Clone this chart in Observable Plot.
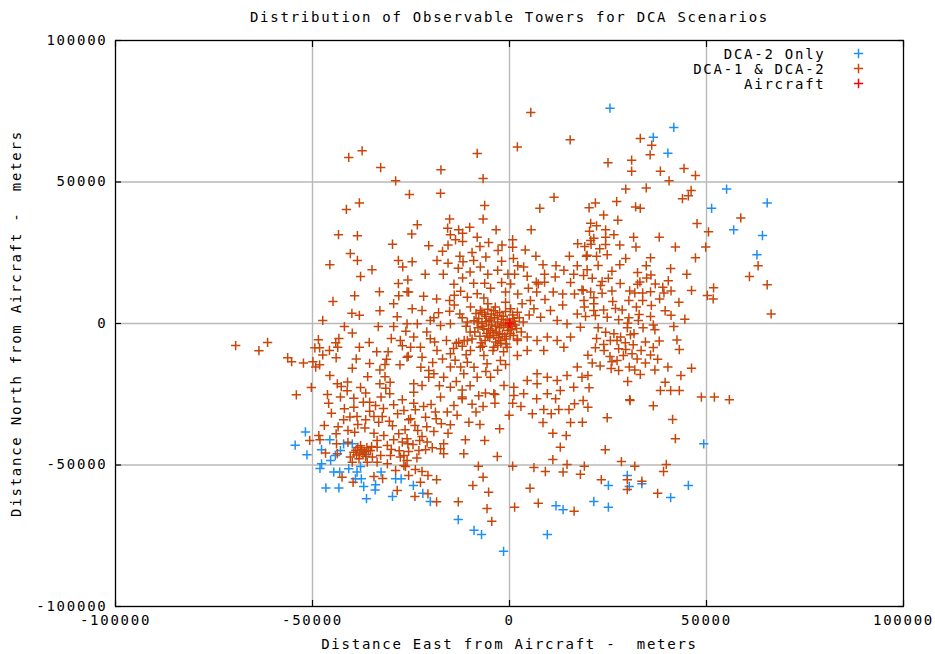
<!DOCTYPE html>
<html><head><meta charset="utf-8">
<script src="https://cdn.jsdelivr.net/npm/d3@7"></script>
<script src="https://cdn.jsdelivr.net/npm/@observablehq/plot@0.6"></script>
<style>
body{margin:0;background:#fff}
svg text{letter-spacing:1.75px;white-space:pre}
</style>
</head><body><div id="chart"></div>
<script>
const title = "Distribution of Observable Towers for DCA Scenarios";
const xLabel = "Distance East from Aircraft -  meters";
const yLabel = "Distance North from Aircraft -  meters";
const legendLabels = ["DCA-2 Only", "DCA-1 & DCA-2", "Aircraft"];
const seriesColors = ["#1e8ff5", "#c8460a", "#ff0000"];
const xTicks = [-100000, -50000, 0, 50000, 100000];
const yTicks = [-100000, -50000, 0, 50000, 100000];

// DCA-2 Only towers [east, north] in meters
const dca2Only = [
[25500,76100],[41700,69300],[36500,65800],[40200,60200],[55100,47500],[51300,40700],[65400,42600],[56900,33100],[64200,31100],[62800,24300],
[-51800,-38300],[-54400,-43000],[-51400,-46400],[-45600,-41100],[-47700,-44600],[-47700,-49600],[-48100,-51200],[-45400,-48400],[-44200,-46600],[-42900,-44900],
[-42100,-42500],[-39900,-42500],[-44600,-52500],[-43100,-52500],[-40800,-51300],[-38700,-52500],[-37800,-50500],[-39100,-54900],[-37600,-54900],[-46600,-58100],
[-43300,-58100],[-37000,-57600],[-34000,-57000],[-34100,-58800],[-36300,-61900],[-32600,-52500],[-28900,-54900],[-27500,-54900],[-29700,-61100],[-36400,-46300],
[-24400,-57200],[-22000,-60000],[-20100,-62900],[-13000,-69300],[-9000,-73100],[-7100,-74600],[-1500,-80500],[11800,-64400],[13600,-65800],[9600,-74600],
[49300,-42500],[29900,-53700],[25100,-57200],[30400,-57600],[33600,-56600],[45400,-57200],[21400,-62900],[25100,-64900],[40900,-61500]
];

// DCA-1 & DCA-2 towers [east, north] in meters
const dcaBoth = [
[-40800,58700],[-37400,61000],[-32700,55100],[-28900,50400],[-25400,45600],[-38100,42600],[-41400,40300],[-43400,31400],[-38600,31000],[-29700,28000],
[5400,74600],[15400,64900],[2000,62400],[-8200,60100],[-17400,54300],[-6700,51200],[-17500,46000],[-6300,41700],[11300,44600],[7700,40700],
[-15200,36900],[-6700,36900],[-23400,34900],[-24800,31600],[-15700,33700],[-12900,33100],[-10100,34000],[-15000,31400],[-11900,31900],[-8200,30500],
[-3400,33100],[5500,33100],[-13700,29600],[-11900,29000],[-15600,27700],[-5300,28600],[-1900,27700],[800,29600],[-7500,27200],[17300,28200],[19100,27200],[20200,40900],
[33200,65400],[36100,63000],[35700,59600],[25000,56800],[31000,57700],[31000,53800],[38300,53800],[44300,54800],[47200,52300],[40500,50400],
[29500,47500],[34700,47900],[46100,47000],[45400,45100],[43900,44100],[21800,42600],[27200,43100],[32000,41200],[33200,40700],[23900,38300],
[58700,37300],[47600,35300],[50500,32400],[20600,35400],[22100,34500],[20300,32600],[24400,33100],[26500,31400],[21400,30100],[24400,30500],
[20600,29300],[20700,28000],[24400,27900],[28000,27700],[32100,27000],[42100,27000],[49800,27000],[22900,26400],
[19700,24100],[22100,23800],[24800,24300],[35800,23200],[47200,23200],[28000,20800],[34700,20400],[40900,19400],[19700,19000],[45000,17400],
[32500,18000],[35900,17100],[34800,16100],[25100,16000],[40300,15100],[33100,14700],[28100,14100],[32500,13900],[23100,13400],[38900,12800],
[39200,10800],[41000,11500],[35800,11200],[31800,10800],[33800,10800],[18700,11700],[20600,11100],[23500,10700],[46200,11700],[51800,12600],
[50200,9900],[51700,8700],[21400,9100],[38100,8700],[33800,8100],[30300,8100],[26200,7800],[21400,7000],[18900,8100],[36000,6400],
[32200,5800],[26900,5300],[28600,4800],[23900,4800],[21400,4600],[19000,5800],[41000,2900],[35800,2500],[32900,3200],[30300,2000],
[27700,1300],[24800,2200],[21800,2800],[19300,2500],[32700,1100],[30000,100],[33900,-1500],[29900,-1500],[36900,-2200],[41700,-1100],
[38000,-6200],[42500,-5800],[43100,-9200],[24400,-3100],[26500,-3600],[28200,-4800],[30700,-4000],[31600,-3600],[22100,-5300],[25600,-6000],
[27300,-6000],[29400,-6800],[31400,-7500],[23900,-7400],[21800,-8600],[27700,-8900],[33400,-9500],[35800,-11100],[37600,-12600],[19900,-11200],
[25500,-11700],[28900,-11300],[31100,-10700],[32400,-12500],[27300,-13100],[25800,-15900],[27700,-16600],[30400,-15400],[31800,-16400],[33200,-18000],
[36900,-16400],[40200,-15400],[46200,-15800],[43500,-18400],[19900,-18400],[20200,-22700],[39500,-20800],[38300,-23700],[40900,-23700],[43100,-23700],
[48700,-26000],[52000,-26000],[55800,-26900],[30500,-26900],[63100,20400],[60900,16600],[65400,13700],[66400,3400],
[-40400,24700],[-45600,20800],[-38600,22300],[-34900,19000],[-37800,16600],[-28200,22300],[-27100,20000],[-25800,15400],[-28200,14100],[-33000,11200],
[-39300,9800],[-28100,9800],[-26000,11200],[-44800,7800],[-29400,7000],[-32900,4500],[-40000,3600],[-38100,2900],[-28500,2400],[-47400,1100],
[-41900,-1100],[-33300,-1100],[-29400,-1100],[-39900,-3400],[-26300,-2700],[-48500,-5700],[-43300,-5300],[-44100,-6800],[-43600,-8400],[-49400,-8600],
[-48200,-8600],[-45700,-9500],[-35600,-6700],[-38100,-8400],[-30000,-5300],[-27700,-6000],[-27200,-7900],[-33700,-10000],[-30800,-10000],[-47400,-11100],
[-44000,-12100],[-38900,-12500],[-31200,-12600],[-25700,-11600],[-69500,-7800],[-63600,-9600],[-61400,-6700],[-56300,-12100],[-55300,-13500],[-52300,-14000],
[-49900,-13500],[-48200,-14600],[-49200,-15400],[-39900,-15800],[-35500,-14100],[-31600,-14500],[-27800,-14600],[-32900,-16400],[-45600,-18400],[-36000,-18800],
[-31600,-18800],[-43700,-21300],[-42700,-22300],[-41100,-20700],[-41200,-23800],[-37800,-22600],[-32900,-21300],[-30300,-20800],[-31400,-22900],[-36500,-24600],
[-30400,-24800],[-46200,-25100],[-50300,-22600],[-54100,-25200],[-39500,-26400],[-42900,-26000],[-32600,-26000],[-27200,-26900],
[-2900,25800],[800,26900],[6700,23800],[8500,20800],[11800,20400],[15200,23800],[19500,23800],[17200,20400],[18800,17000],[16300,17400],
[13800,18800],[11600,16400],[8900,17400],[8900,14600],[6800,14600],[4500,16700],[3600,20000],[2100,20400],[-400,17400],[1300,17400],
[-3000,18800],[-5500,17400],[-7400,20000],[-9100,22300],[-9500,25100],[-11800,21800],[-12600,23800],[-15600,21300],[-18400,22300],[-24700,21800],
[-21400,17400],[-16800,17400],[-14100,13900],[-11900,16100],[-9100,14200],[-6300,14200],[-4800,12500],[-1000,11100],[300,14000],[2100,10400],
[4800,12500],[6900,11100],[7300,14000],[11100,11100],[13500,10400],[16500,10400],[18400,11900],[-25600,11100],[-21800,9600],[-18500,8700],
[-15200,8100],[-12400,11400],[-10700,9300],[-8200,10500],[-24700,5200],[-22200,4600],[-19200,2000],[-15200,4300],[-12600,3400],[-9900,5800],
[-7400,4600],[-5500,7000],[-3600,5800],[-1000,7500],[300,5200],[2000,4000],[3200,7000],[5300,8100],[6200,5200],[7900,2200],
[10400,4600],[12100,1100],[14600,-100],[17200,3400],[18000,-1300],[15500,-4800],[-26000,-100],[-23400,-100],[-20100,1100],[-17500,-700],
[-15000,-100],[-10700,500],[-8200,500],[-24300,-4800],[-20100,-5400],[-25100,-8400],[-22600,-8400],[-26000,-11900],[-22200,-11900],[-18400,-9500],
[-15000,-10700],[-12900,-6600],[-10700,-6000],[-9900,-9500],[-7400,-8400],[-6500,-11300],[-4000,-8400],[-2300,-6000],[-600,-8400],[2000,-6000],
[4500,-4800],[7000,-6000],[9600,-4800],[12100,-6000],[13800,-8400],[8700,-9500],[4500,-9500],[2000,-11300],[-2300,-13100],[-5700,-14200],
[-10700,-13700],[-12400,-15400],[-15000,-15400],[-19200,-17800],[-20500,-16600],[-16700,-19000],[-11600,-17800],[-8200,-19000],[-4800,-19000],[-1400,-21900],
[1100,-22500],[4500,-20100],[7000,-17800],[9600,-19000],[12100,-20100],[14600,-18400],[17200,-15400],[18400,-19000],[16300,-22500],[12900,-23700],
[9600,-24800],[7000,-21300],[3600,-24800],[1100,-25400],[-4000,-24800],[-6100,-24600],[-12000,-26000],[-15000,-22500],[-17500,-26000],[-22200,-21900],
[-24300,-21300],[-24300,-24300],[-20500,-19000],
[-6000,2500],[-5200,1000],[-4500,-500],[-3800,2000],[-3000,500],[-2500,-1500],[-2000,1500],[-1500,-800],[-1000,200],[-500,-2500],
[500,-1000],[1200,800],[1800,-1800],[-7000,0],[-6500,-2000],[-5800,-3500],[-4800,-2500],[-4000,-4200],[-3300,-3000],[-2800,-5000],
[-1800,-3800],[-800,-5500],[200,-3500],[-8000,-1500],[-7500,-4500],[-6200,-6000],[-5000,-5000],[-3500,-6500],[-2200,-7000],[-9000,1000],
[-8500,3500],[-7000,4000],[-5500,5000],[-4000,4500],[-2500,3800],[-1000,4200],[800,3000],[2500,2000],[3500,500],[3000,-3000],
[2000,-5500],[-10000,-3000],[-9500,-5500],[-11000,-1000],[-12000,2000],[-6800,-8000],[-4200,-9500],[-1500,-10000],
[-13500,-7000],[-12000,-8000],[-14200,-8800],[-11500,-6000],
[-7800,1800],[-6800,-1000],[-5900,600],[-5300,-1800],[-4700,1600],[-4200,-3200],[-3600,-1000],[-3100,2800],[-2600,-3600],[-2100,-200],
[-1600,2600],[-1200,-4600],[-600,1200],[-300,-1400],[400,-2200],[900,1800],[1500,-500],[-6300,3200],[-5500,-4400],[-8800,-3000],
[-3000,-7800],[-900,-7200],[1000,-4200],[-4600,3400],[-7200,-6800],
[-19000,-6500],[-17000,-12500],[-13800,-13000],[-9000,-15500],[-6000,-17000],[-3000,-16500],[-1000,-14500],[-17800,-22000],[-13500,-20500],[-10000,-22000],
[-7800,-25500],[-19500,-13800],[-22500,-15500],[-9500,-28500],[-12000,-23500],[-16000,-6000],[-21000,-3000],[-18000,3800],[-14000,6500],[-11000,-11000],
[-32000,-30000],[-30500,-34500],[-26500,-37500],[-24000,-36000],[-21000,-36500],[-35500,-31000],[-40500,-33000],[-43500,-36500],[-30000,-44500],[-24500,-42800],
[-28000,-45000],[-41000,-42000],[-44000,-39000],[-47000,-36000],[-23500,-47500],
[22500,-1500],[24000,-9500],[26000,-13500],[29500,-9200],[34500,-6500],[36500,-8500],[23000,-15000],[21000,-14000],[30000,-20500],[34500,-14000],
[-13000,19500],[-10000,18200],[-6000,23500],[-2000,22000],[1000,23000],[4000,26000],[-17000,25500],[-20500,27500],[-14000,10000],[-6500,9000],
[-2000,14500],[5000,3000],[9000,8500],[13500,6500],[15500,14500],
[22500,20500],[26000,18500],[29500,23000],[31500,30500],[27500,36500],[23500,14800],[37000,14000],[43000,7500],[39500,4500],[44500,1500],
[36500,-500],[26000,11500],[30500,11500],[21000,16000],[38000,30500],
[-29400,-28700],[-45900,-28200],[-41900,-30100],[-39500,-29600],[-37100,-27800],[-35500,-27800],[-34000,-29000],[-45200,-31700],[-38700,-32900],[-34400,-32900],
[-32300,-32900],[-28400,-31900],[-26800,-30700],[-42100,-34000],[-38500,-35700],[-36500,-34000],[-33200,-34900],[-29700,-36100],[-25600,-34000],[-41000,-37800],
[-39300,-38400],[-36700,-36900],[-34400,-38800],[-31900,-39600],[-28100,-39000],[-48400,-39600],[-50700,-41300],[-48100,-41100],[-43900,-42500],[-33600,-41300],
[-29400,-41100],[-27200,-41900],[-25800,-42500],[-31000,-43100],[-33600,-43700],[-35300,-44900],[-46700,-45800],[-43700,-46000],[-40400,-47200],[-39900,-49000],
[-34800,-47200],[-32700,-46600],[-30200,-46600],[-27700,-47200],[-26000,-48400],[-36100,-49000],[-33600,-49000],[-31000,-49600],[-28900,-51900],[-26800,-50200],
[-42500,-54300],[-39700,-56100],[-34400,-54100],[-32200,-54800],[-28500,-59000],
[-38500,-43800],[-37500,-44500],[-36800,-45200],[-38000,-45800],[-39000,-44800],[-36200,-43900],[-37200,-46200],[-38800,-46500],[-35800,-45000],[-37800,-43200],
[-36500,-47000],[-39500,-45500],[-35000,-43500],[-38200,-47800],
[-12000,-26600],[-3700,-25100],[-24300,-28200],[-21800,-29300],[-19900,-28600],[-14100,-29000],[-6700,-29300],[-3700,-28200],[800,-28200],[2900,-29300],
[-23900,-30500],[-18800,-31300],[-15800,-31300],[-13300,-32400],[-8500,-31300],[-100,-32400],[5800,-31900],[8700,-30400],[10600,-31900],[12500,-30400],
[15100,-30400],[16500,-28400],[6900,-26600],[11700,-26600],[-25100,-33700],[-21300,-33100],[-18600,-33700],[-17300,-35400],[-15000,-35800],[-10300,-34900],
[-7500,-35700],[-2500,-37200],[8500,-35000],[15500,-35000],[-23300,-37800],[-19200,-38200],[-15600,-38800],[-22200,-39900],[-26000,-40700],[-22800,-41300],
[-20900,-41900],[-16700,-42500],[-11200,-41100],[-6300,-41300],[11000,-38800],[14400,-39600],[12900,-43700],[-25600,-45200],[-23000,-44900],[-21300,-44600],
[-19600,-43900],[-17500,-44300],[-16700,-46000],[-11600,-46000],[-3100,-47000],[11000,-48100],[14600,-49800],[-26800,-46600],[-26400,-50500],[-23900,-51600],
[-22200,-52300],[-25600,-53700],[-20700,-53700],[-18500,-55200],[-22600,-56100],[-20700,-60200],[-24000,-61100],[-18500,-63000],[-13000,-63000],[-7900,-50400],
[-6700,-54300],[-9300,-57200],[-5300,-59600],[-5700,-65400],[-4500,-69900],[800,-50400],[6200,-50900],[9100,-52300],[13600,-52500],[18000,-53300],
[5200,-58200],[1300,-64900],[7300,-63500],[16400,-66300],
[18700,-27200],[18500,-34900],[19000,-50400],[19900,-29600],[30600,-27200],[36500,-29100],[24800,-33300],[41400,-33900],[42100,-40700],[24300,-44600],
[28400,-48800],[31800,-50400],[39800,-49800],[39100,-52300],[23300,-55200],[29900,-55200],[33600,-55700],[29900,-58700],[37600,-60000]
];

// Aircraft position
const aircraft = [[0, 0]];

const font = "'DejaVu Sans Mono', 'Liberation Mono', monospace";
const plusStyle = {symbol: "plus", r: 3.1, strokeWidth: 1.5};

const legendMarks = legendLabels.flatMap((label, i) => [
  Plot.text([label], {frameAnchor: "top-right", textAnchor: "end", dx: -78, dy: 9 + 15 * i, fill: "black"}),
  Plot.dot([label], {frameAnchor: "top-right", dx: -45, dy: 13 + 15 * i, stroke: seriesColors[i], ...plusStyle})
]);

const chart = Plot.plot({
  width: 935,
  height: 654,
  marginTop: 40,
  marginLeft: 115,
  marginRight: 32,
  marginBottom: 48,
  style: {fontFamily: font, fontSize: "14px", color: "black", background: "white", overflow: "visible"},
  x: {domain: [xTicks[0], xTicks[xTicks.length - 1]]},
  y: {domain: [yTicks[0], yTicks[yTicks.length - 1]]},
  marks: [
    Plot.ruleX(xTicks, {stroke: "#b8b8b8", strokeWidth: 1.4}),
    Plot.ruleY(yTicks, {stroke: "#b8b8b8", strokeWidth: 1.4}),
    Plot.axisX({ticks: xTicks, anchor: "bottom", tickSize: -6, tickFormat: () => "", label: null, strokeWidth: 1.2}),
    Plot.axisX({ticks: xTicks, anchor: "top", tickSize: -6, tickFormat: () => "", label: null, strokeWidth: 1.2}),
    Plot.axisY({ticks: yTicks, anchor: "left", tickSize: -6, tickFormat: () => "", label: null, strokeWidth: 1.2}),
    Plot.axisY({ticks: yTicks, anchor: "right", tickSize: -6, tickFormat: () => "", label: null, strokeWidth: 1.2}),
    Plot.axisX({ticks: xTicks, anchor: "bottom", tickSize: 0, tickPadding: 9, tickFormat: d => String(d),
      label: xLabel, labelAnchor: "center", labelArrow: "none", labelOffset: 42}),
    Plot.axisY({ticks: yTicks, anchor: "left", tickSize: 0, tickPadding: 8, tickFormat: d => String(d),
      label: yLabel, labelAnchor: "center", labelArrow: "none", labelOffset: 104}),
    Plot.frame({stroke: "black", strokeWidth: 1.2}),
    Plot.dot(dca2Only, {x: d => d[0], y: d => d[1], stroke: seriesColors[0], ...plusStyle}),
    Plot.dot(dcaBoth, {x: d => d[0], y: d => d[1], stroke: seriesColors[1], ...plusStyle}),
    Plot.dot(aircraft, {x: d => d[0], y: d => d[1], stroke: seriesColors[2], ...plusStyle, strokeWidth: 2.2}),
    Plot.text([title], {frameAnchor: "top", dy: -28, fill: "black"}),
    ...legendMarks
  ]
});
document.getElementById("chart").appendChild(chart);
</script>
</body></html>
